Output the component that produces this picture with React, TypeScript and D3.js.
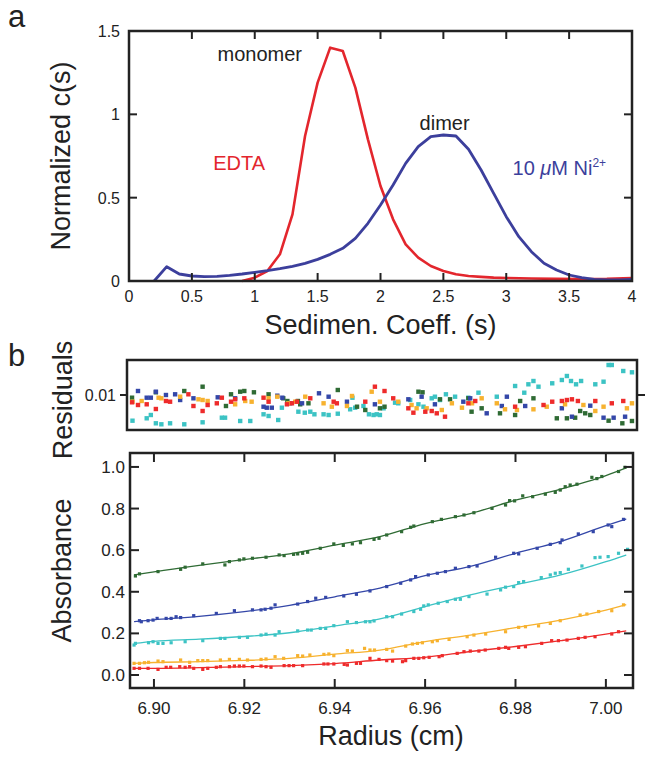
import React from 'react';
import * as d3 from 'd3';

// ---------- Panel a: c(s) distributions ----------
const edtaS = [0.9, 1.0, 1.1, 1.2, 1.3, 1.4, 1.5, 1.6, 1.7, 1.8, 1.9, 2.0, 2.1, 2.2, 2.3, 2.4, 2.5, 2.6, 2.7, 2.8, 2.9, 3.0, 3.2, 3.4, 3.6, 3.8, 4.0];
const edtaC = [0, 0.02, 0.06, 0.16, 0.40, 0.87, 1.19, 1.40, 1.38, 1.16, 0.85, 0.57, 0.37, 0.22, 0.14, 0.09, 0.06, 0.04, 0.03, 0.025, 0.02, 0.018, 0.015, 0.013, 0.012, 0.013, 0.018];
const niS = [0.2, 0.3, 0.4, 0.5, 0.6, 0.7, 0.8, 0.9, 1.0, 1.1, 1.2, 1.3, 1.4, 1.5, 1.6, 1.7, 1.8, 1.9, 2.0, 2.1, 2.2, 2.3, 2.4, 2.5, 2.6, 2.7, 2.8, 2.9, 3.0, 3.1, 3.2, 3.3, 3.4, 3.5, 3.6, 3.7, 3.8, 3.9, 4.0];
const niC = [0, 0.086, 0.042, 0.03, 0.026, 0.028, 0.034, 0.042, 0.052, 0.062, 0.074, 0.088, 0.106, 0.13, 0.16, 0.196, 0.256, 0.346, 0.456, 0.576, 0.706, 0.806, 0.866, 0.876, 0.87, 0.79, 0.666, 0.526, 0.386, 0.266, 0.176, 0.106, 0.066, 0.036, 0.02, 0.01, 0.006, 0.006, 0.01];
const topXTicks = [0, 0.5, 1, 1.5, 2, 2.5, 3, 3.5, 4];
const topYTicks = [0, 0.5, 1, 1.5];

// ---------- Panel b: absorbance data ----------
const greenPts: [number, number][] = [[6.8959,0.476],[6.8968,0.486],[6.9009,0.497],[6.9059,0.508],[6.9069,0.518],[6.9108,0.534],[6.9157,0.529],[6.9167,0.545],[6.9189,0.553],[6.9199,0.558],[6.9218,0.561],[6.9248,0.566],[6.9277,0.577],[6.9288,0.574],[6.9309,0.580],[6.9318,0.582],[6.9329,0.585],[6.9340,0.590],[6.9368,0.609],[6.9398,0.630],[6.9419,0.623],[6.9439,0.630],[6.9457,0.636],[6.9487,0.652],[6.9498,0.657],[6.9515,0.673],[6.9548,0.689],[6.9568,0.710],[6.9575,0.716],[6.9616,0.737],[6.9636,0.748],[6.9667,0.761],[6.9686,0.769],[6.9708,0.780],[6.9748,0.801],[6.9778,0.817],[6.9787,0.838],[6.9798,0.837],[6.9816,0.861],[6.9838,0.857],[6.9866,0.869],[6.9888,0.878],[6.9899,0.889],[6.9910,0.905],[6.9921,0.913],[6.9936,0.917],[6.9969,0.950],[6.9980,0.944],[6.9991,0.954],[7.0028,0.978],[7.0042,0.998]];
const bluePts: [number, number][] = [[6.8968,0.261],[6.8972,0.256],[6.8987,0.261],[6.8998,0.264],[6.9007,0.272],[6.9027,0.272],[6.9038,0.272],[6.9049,0.280],[6.9059,0.276],[6.9088,0.285],[6.9138,0.296],[6.9178,0.309],[6.9218,0.313],[6.9237,0.313],[6.9246,0.316],[6.9259,0.321],[6.9268,0.337],[6.9318,0.341],[6.9340,0.353],[6.9358,0.369],[6.9380,0.373],[6.9420,0.380],[6.9448,0.388],[6.9478,0.404],[6.9515,0.425],[6.9546,0.441],[6.9568,0.457],[6.9579,0.473],[6.9607,0.481],[6.9627,0.489],[6.9645,0.497],[6.9667,0.513],[6.9697,0.521],[6.9715,0.524],[6.9756,0.566],[6.9796,0.585],[6.9807,0.582],[6.9848,0.609],[6.9877,0.628],[6.9899,0.636],[6.9903,0.649],[6.9939,0.678],[6.9972,0.689],[7.0005,0.721],[7.0013,0.713],[7.0039,0.748]];
const cyanPts: [number, number][] = [[6.8956,0.144],[6.8959,0.152],[6.8988,0.155],[6.8998,0.160],[6.9009,0.152],[6.9020,0.152],[6.9038,0.155],[6.9069,0.160],[6.9108,0.165],[6.9147,0.176],[6.9157,0.176],[6.9189,0.181],[6.9207,0.181],[6.9237,0.192],[6.9248,0.196],[6.9268,0.192],[6.9277,0.208],[6.9318,0.212],[6.9340,0.216],[6.9348,0.216],[6.9368,0.224],[6.9380,0.224],[6.9398,0.237],[6.9428,0.256],[6.9448,0.252],[6.9468,0.256],[6.9478,0.256],[6.9487,0.260],[6.9515,0.280],[6.9528,0.280],[6.9548,0.293],[6.9575,0.305],[6.9590,0.316],[6.9597,0.332],[6.9607,0.337],[6.9629,0.345],[6.9649,0.353],[6.9667,0.364],[6.9678,0.364],[6.9697,0.377],[6.9737,0.389],[6.9767,0.409],[6.9778,0.422],[6.9796,0.425],[6.9807,0.444],[6.9818,0.449],[6.9857,0.468],[6.9877,0.481],[6.9888,0.489],[6.9899,0.492],[6.9917,0.508],[6.9947,0.524],[6.9976,0.564],[6.9987,0.566],[7.0005,0.569],[7.0028,0.585],[7.0048,0.604]];
const orangePts: [number, number][] = [[6.8956,0.056],[6.8968,0.056],[6.8979,0.059],[6.8988,0.061],[6.9009,0.067],[6.9020,0.064],[6.9059,0.072],[6.9079,0.061],[6.9097,0.069],[6.9108,0.069],[6.9119,0.069],[6.9147,0.072],[6.9167,0.075],[6.9189,0.075],[6.9207,0.072],[6.9237,0.075],[6.9248,0.077],[6.9268,0.088],[6.9287,0.080],[6.9318,0.093],[6.9329,0.091],[6.9345,0.096],[6.9376,0.099],[6.9387,0.101],[6.9398,0.093],[6.9428,0.117],[6.9439,0.115],[6.9466,0.128],[6.9478,0.120],[6.9488,0.120],[6.9515,0.123],[6.9528,0.115],[6.9557,0.139],[6.9572,0.149],[6.9583,0.152],[6.9594,0.155],[6.9616,0.160],[6.9627,0.165],[6.9653,0.171],[6.9693,0.184],[6.9708,0.192],[6.9734,0.197],[6.9778,0.208],[6.9807,0.229],[6.9822,0.232],[6.9851,0.236],[6.9877,0.248],[6.9899,0.261],[6.9943,0.288],[6.9958,0.293],[6.9984,0.305],[7.0013,0.309],[7.0039,0.337]];
const redPts: [number, number][] = [[6.8956,0.032],[6.8968,0.032],[6.8987,0.032],[6.9009,0.027],[6.9027,0.037],[6.9037,0.037],[6.9057,0.040],[6.9069,0.037],[6.9079,0.040],[6.9088,0.032],[6.9108,0.027],[6.9119,0.032],[6.9138,0.037],[6.9147,0.040],[6.9167,0.040],[6.9178,0.043],[6.9189,0.043],[6.9199,0.043],[6.9218,0.040],[6.9237,0.043],[6.9248,0.040],[6.9259,0.037],[6.9288,0.045],[6.9299,0.045],[6.9309,0.045],[6.9329,0.045],[6.9376,0.053],[6.9385,0.053],[6.9398,0.053],[6.9421,0.051],[6.9428,0.048],[6.9448,0.056],[6.9457,0.056],[6.9478,0.080],[6.9498,0.075],[6.9515,0.069],[6.9528,0.067],[6.9550,0.064],[6.9557,0.069],[6.9575,0.080],[6.9586,0.080],[6.9597,0.083],[6.9609,0.085],[6.9631,0.088],[6.9638,0.093],[6.9671,0.104],[6.9686,0.112],[6.9700,0.115],[6.9719,0.115],[6.9733,0.120],[6.9763,0.128],[6.9778,0.133],[6.9785,0.128],[6.9807,0.133],[6.9822,0.136],[6.9858,0.152],[6.9880,0.165],[6.9895,0.165],[6.9914,0.168],[6.9939,0.176],[6.9954,0.181],[6.9976,0.184],[7.0013,0.197],[7.0028,0.208]];

// fitted curves
const fitR = [6.8956, 6.90, 6.91, 6.92, 6.93, 6.94, 6.95, 6.96, 6.97, 6.98, 6.99, 7.00, 7.0045];
const greenFit = [0.481, 0.496, 0.527, 0.555, 0.582, 0.624, 0.665, 0.728, 0.776, 0.840, 0.893, 0.958, 0.995];
const blueFit = [0.257, 0.265, 0.282, 0.305, 0.335, 0.376, 0.418, 0.478, 0.522, 0.585, 0.642, 0.718, 0.750];
const cyanFit = [0.152, 0.162, 0.172, 0.185, 0.203, 0.236, 0.270, 0.329, 0.385, 0.433, 0.481, 0.545, 0.577];
const orangeFit = [0.056, 0.060, 0.064, 0.070, 0.080, 0.100, 0.120, 0.160, 0.192, 0.228, 0.264, 0.312, 0.338];
const redFit = [0.032, 0.032, 0.035, 0.040, 0.045, 0.055, 0.072, 0.085, 0.113, 0.137, 0.165, 0.196, 0.212];

// residuals
const resGreen: [number, number][] = [[6.8958,0.0073],[6.9010,0.0127],[6.9072,0.014],[6.9112,0.0183],[6.9163,-0.001],[6.9174,0.0107],[6.9194,0.0133],[6.9203,0.014],[6.9224,0.0127],[6.9256,0.0107],[6.9288,0.0067],[6.9297,0.004],[6.9320,0.004],[6.9325,0.0007],[6.9343,0.0017],[6.9407,0.015],[6.9449,-0.0017],[6.9467,-0.005],[6.9499,-0.0033],[6.9509,-0.0017],[6.9583,0.0133],[6.9592,0.0127],[6.9630,0.0057],[6.9652,0.0057],[6.9692,0.0067],[6.9699,-0.0067],[6.9721,-0.0033],[6.9761,-0.0083],[6.9794,-0.01],[6.9805,0.004],[6.9834,0.0067],[6.9885,-0.0133],[6.9907,-0.0133],[6.9925,-0.0127],[6.9936,-0.006],[6.9947,-0.0083],[6.9958,-0.01],[6.9998,-0.0157],[7.0028,-0.0183],[7.0049,-0.016]];
const resBlue: [number, number][] = [[6.8971,0.014],[6.8990,0.0073],[6.8999,0.0073],[6.9010,0.0133],[6.9032,0.01],[6.9052,0.0107],[6.9063,0.005],[6.9092,0.0067],[6.9145,0.0077],[6.9183,0.0067],[6.9245,-0.0017],[6.9252,-0.0027],[6.9263,-0.0027],[6.9275,0.0093],[6.9286,0.0073],[6.9303,0.0017],[6.9329,0.0017],[6.9366,0.0117],[6.9387,0.0083],[6.9427,0.0033],[6.9488,0.0007],[6.9561,0.0057],[6.9590,0.0083],[6.9619,0.0007],[6.9681,0.0033],[6.9696,0.0067],[6.9732,-0.0083],[6.9765,-0.001],[6.9776,0.0083],[6.9816,-0.001],[6.9896,-0.0033],[6.9918,-0.0117],[6.9958,-0.0007],[6.9987,-0.0127],[7.0009,-0.0127],[7.0034,-0.0117]];
const resCyan: [number, number][] = [[6.8959,-0.0157],[6.8990,-0.0133],[6.8999,-0.01],[6.9010,-0.0183],[6.9022,-0.0193],[6.9041,-0.0183],[6.9072,-0.0193],[6.9112,-0.0173],[6.9154,-0.0127],[6.9161,-0.0127],[6.9194,-0.016],[6.9216,-0.016],[6.9245,-0.0093],[6.9256,-0.011],[6.9277,-0.015],[6.9285,-0.0027],[6.9321,-0.0067],[6.9335,-0.0077],[6.9347,-0.0067],[6.9356,-0.0093],[6.9376,-0.0093],[6.9387,-0.01],[6.9407,-0.0087],[6.9434,-0.0043],[6.9439,0.0073],[6.9445,-0.0027],[6.9463,-0.001],[6.9475,-0.0093],[6.9485,-0.01],[6.9492,-0.0093],[6.9499,-0.01],[6.9507,-0.0033],[6.9532,0.0023],[6.9539,0.0017],[6.9565,0.005],[6.9583,0.0007],[6.9594,-0.0017],[6.9612,0.0067],[6.9619,0.0083],[6.9630,0.005],[6.9643,0.0107],[6.9663,0.0083],[6.9692,0.0073],[6.9714,0.0123],[6.9754,0.0083],[6.9794,0.019],[6.9814,0.0123],[6.9823,0.0207],[6.9834,0.024],[6.9845,0.0183],[6.9875,0.0217],[6.9896,0.025],[6.9907,0.029],[6.9916,0.024],[6.9927,0.0207],[6.9938,0.024],[6.9969,0.0207],[6.9987,0.0233],[6.9998,0.04],[7.0005,0.04],[7.0030,0.034],[7.0049,0.0327]];
const resOrange: [number, number][] = [[6.8959,0.0033],[6.8979,0.004],[6.9016,0.0073],[6.9022,0.0067],[6.9063,0.0083],[6.9103,0.0057],[6.9112,0.005],[6.9123,0.004],[6.9183,0.0007],[6.9205,0.004],[6.9219,0.0033],[6.9256,0.0067],[6.9275,0.0083],[6.9299,0.0017],[6.9314,0.0033],[6.9336,0.0083],[6.9376,0.0017],[6.9394,-0.0017],[6.9427,-0.001],[6.9438,0.009],[6.9481,0.0133],[6.9499,0.0033],[6.9539,0.0033],[6.9568,0],[6.9579,-0.0033],[6.9601,-0.0033],[6.9634,-0.005],[6.9656,0.0017],[6.9678,-0.0027],[6.9700,0.0017],[6.9721,0.0067],[6.9754,0.0017],[6.9772,-0.0043],[6.9798,-0.005],[6.9834,-0.0043],[6.9863,-0.0017],[6.9903,0.0007],[6.9943,0],[6.9969,-0.006],[6.9987,-0.0017],[7.0038,-0.0033],[7.0049,0.0017]];
const resRed: [number, number][] = [[6.8958,0.0027],[6.8971,0],[6.8990,0.0007],[6.9010,-0.004],[6.9032,0.004],[6.9041,0.0033],[6.9081,0.0107],[6.9092,-0.001],[6.9112,-0.006],[6.9123,0],[6.9143,0.0017],[6.9154,0.0073],[6.9174,0.0033],[6.9183,0.0057],[6.9203,0.0067],[6.9245,0.0073],[6.9256,0.0033],[6.9296,0.0007],[6.9307,0.0017],[6.9318,0.0033],[6.9347,0.0067],[6.9398,0.0033],[6.9405,0.0017],[6.9467,0.0033],[6.9488,0.0183],[6.9509,0.014],[6.9528,0.0067],[6.9561,-0.0033],[6.9572,-0.0077],[6.9598,-0.0067],[6.9612,-0.006],[6.9623,-0.0083],[6.9641,-0.0117],[6.9692,0.0017],[6.9707,0.004],[6.9794,-0.0017],[6.9856,0],[6.9875,0.0033],[6.9896,0.004],[6.9907,0.005],[6.9918,0.0057],[6.9931,0.004],[6.9969,0.004],[7.0005,0.0017],[7.0030,0.004]];

const absXTicks = [6.90, 6.92, 6.94, 6.96, 6.98, 7.00];
const absYTicks = [0, 0.2, 0.4, 0.6, 0.8, 1.0];
const resYTicks = [0.01];

const C = {
  red: '#e3262d',
  blue: '#3c3f9c',
  green: '#2f6b34',
  bBlue: '#3447a8',
  cyan: '#3cc3c4',
  orange: '#f7b22f',
  bRed: '#ee2b2b',
  ink: '#222',
};
const FONT = '"Liberation Sans", Arial, Helvetica, sans-serif';

export default function App() {
  // scales
  const xTop = d3.scaleLinear().domain([0, 4]).range([129, 632]);
  const yTop = d3.scaleLinear().domain([0, 1.5]).range([281, 31]);
  const xRes = d3.scaleLinear().domain([6.8947, 7.006]).range([127, 637]);
  const yRes = d3.scaleLinear().domain([-0.025, 0.045]).range([430, 360]);
  const xAbs = d3.scaleLinear().domain([6.8947, 7.006]).range([130, 633]);
  const yAbs = d3.scaleLinear().domain([-0.0625, 1.067]).range([688, 453]);

  const topLine = d3.line<[number, number]>().x(d => xTop(d[0])).y(d => yTop(d[1]));
  const edtaPath = topLine(edtaS.map((s, i) => [s, edtaC[i]] as [number, number])) || '';
  const niPath = topLine(niS.map((s, i) => [s, niC[i]] as [number, number])) || '';

  const fitLine = d3.line<[number, number]>().x(d => xAbs(d[0])).y(d => yAbs(d[1])).curve(d3.curveMonotoneX);
  const series = [
    { pts: greenPts, fit: greenFit, res: resGreen, color: C.green },
    { pts: bluePts, fit: blueFit, res: resBlue, color: C.bBlue },
    { pts: cyanPts, fit: cyanFit, res: resCyan, color: C.cyan },
    { pts: orangePts, fit: orangeFit, res: resOrange, color: C.orange },
    { pts: redPts, fit: redFit, res: resRed, color: C.bRed },
  ];
  const resOrder = [series[2], series[0], series[1], series[3], series[4]];

  const tick = 8;
  const [tx0, tx1] = xTop.range();
  const [ty0, ty1] = yTop.range();
  const [ax0, ax1] = xAbs.range();
  const [ay0, ay1] = yAbs.range();
  const [rx0, rx1] = xRes.range();
  const [ry0, ry1] = yRes.range();

  return (
    <svg width={656} height={762} style={{ position: 'absolute', left: 0, top: 0, background: '#fff' }} fontFamily={FONT}>
      <rect x={0} y={0} width={656} height={762} fill="#fff" />
      {/* panel labels */}
      <text x={8} y={27} fontSize={31} fill={C.ink}>a</text>
      <text x={8} y={366} fontSize={31} fill={C.ink}>b</text>

      {/* ===== Panel a ===== */}
      <path d={edtaPath} fill="none" stroke={C.red} strokeWidth={2.6} strokeLinejoin="round" />
      <path d={niPath} fill="none" stroke={C.blue} strokeWidth={2.8} strokeLinejoin="round" />
      <rect x={tx0} y={ty1} width={tx1 - tx0} height={ty0 - ty1} fill="none" stroke={C.ink} strokeWidth={2.5} />
      {topXTicks.map(t => (
        <g key={'tx' + t}>
          <line x1={xTop(t)} x2={xTop(t)} y1={ty0} y2={ty0 - tick} stroke={C.ink} strokeWidth={2} />
          <line x1={xTop(t)} x2={xTop(t)} y1={ty1} y2={ty1 + tick} stroke={C.ink} strokeWidth={2} />
          <text x={xTop(t)} y={302} fontSize={16} textAnchor="middle" fill={C.ink}>{String(t)}</text>
        </g>
      ))}
      {topYTicks.map(t => (
        <g key={'ty' + t}>
          <line x1={tx0} x2={tx0 + tick} y1={yTop(t)} y2={yTop(t)} stroke={C.ink} strokeWidth={2} />
          <line x1={tx1} x2={tx1 - tick} y1={yTop(t)} y2={yTop(t)} stroke={C.ink} strokeWidth={2} />
          <text x={120} y={yTop(t) + 6} fontSize={16} textAnchor="end" fill={C.ink}>{String(t)}</text>
        </g>
      ))}
      <text x={(tx0 + tx1) / 2} y={334} fontSize={27} textAnchor="middle" fill={C.ink}>Sedimen. Coeff. (s)</text>
      <text transform={`translate(70,${(ty0 + ty1) / 2}) rotate(-90)`} fontSize={27} textAnchor="middle" fill={C.ink}>Normalized c(s)</text>
      <text x={xTop(1.04)} y={yTop(1.32)} fontSize={20} textAnchor="middle" fill={C.ink}>monomer</text>
      <text x={xTop(0.67)} y={yTop(0.666)} fontSize={20} fill={C.red}>EDTA</text>
      <text x={xTop(2.51)} y={yTop(0.906)} fontSize={20} textAnchor="middle" fill={C.ink}>dimer</text>
      <text x={xTop(3.05)} y={yTop(0.636)} fontSize={20} fill={C.blue}>
        10 <tspan fontStyle="italic">μ</tspan>M Ni<tspan fontSize={12} dy={-8}>2+</tspan>
      </text>

      {/* ===== Residuals ===== */}
      {resOrder.map((s, si) => (
        <g key={'res' + si}>
          {s.res.map((d, i) => (
            <rect key={i} x={xRes(d[0]) - 2.2} y={yRes(d[1]) - 2.2} width={4.4} height={4.4} fill={s.color} />
          ))}
        </g>
      ))}
      <rect x={rx0} y={ry1} width={rx1 - rx0} height={ry0 - ry1} fill="none" stroke={C.ink} strokeWidth={2.5} />
      {resYTicks.map(t => (
        <g key={'ry' + t}>
          <line x1={rx0 - 7} x2={rx0} y1={yRes(t)} y2={yRes(t)} stroke={C.ink} strokeWidth={2} />
          <line x1={rx1} x2={rx1 + 8} y1={yRes(t)} y2={yRes(t)} stroke={C.ink} strokeWidth={2} />
          <text x={116} y={yRes(t) + 6} fontSize={16} textAnchor="end" fill={C.ink}>{d3.format('.2f')(t)}</text>
        </g>
      ))}
      <text transform={`translate(72,400) rotate(-90)`} fontSize={27} textAnchor="middle" fill={C.ink}>Residuals</text>

      {/* ===== Absorbance ===== */}
      {series.map((s, si) => (
        <g key={'abs' + si}>
          <path d={fitLine(fitR.map((r, i) => [r, s.fit[i]] as [number, number])) || ''} fill="none" stroke={s.color} strokeWidth={1.3} />
          {s.pts.map((d, i) => (
            <rect key={i} x={xAbs(d[0]) - 1.6} y={yAbs(d[1]) - 1.6} width={3.2} height={3.2} fill={s.color} />
          ))}
        </g>
      ))}
      <rect x={ax0} y={ay1} width={ax1 - ax0} height={ay0 - ay1} fill="none" stroke={C.ink} strokeWidth={2.5} />
      {absXTicks.map(t => (
        <g key={'ax' + t}>
          <line x1={xAbs(t)} x2={xAbs(t)} y1={ay0} y2={ay0 - 9} stroke={C.ink} strokeWidth={2} />
          <line x1={xAbs(t)} x2={xAbs(t)} y1={ay1} y2={ay1 + 9} stroke={C.ink} strokeWidth={2} />
          <text x={xAbs(t)} y={714} fontSize={17} textAnchor="middle" fill={C.ink}>{d3.format('.2f')(t)}</text>
        </g>
      ))}
      {absYTicks.map(t => (
        <g key={'ay' + t}>
          <line x1={ax0} x2={ax0 + 9} y1={yAbs(t)} y2={yAbs(t)} stroke={C.ink} strokeWidth={2} />
          <line x1={ax1} x2={ax1 - 9} y1={yAbs(t)} y2={yAbs(t)} stroke={C.ink} strokeWidth={2} />
          <text x={125} y={yAbs(t) + 6} fontSize={17} textAnchor="end" fill={C.ink}>{d3.format('.1f')(t)}</text>
        </g>
      ))}
      <text x={391} y={745} fontSize={27} textAnchor="middle" fill={C.ink}>Radius (cm)</text>
      <text transform={`translate(71,${(ay0 + ay1) / 2}) rotate(-90)`} fontSize={27} textAnchor="middle" fill={C.ink}>Absorbance</text>
    </svg>
  );
}
